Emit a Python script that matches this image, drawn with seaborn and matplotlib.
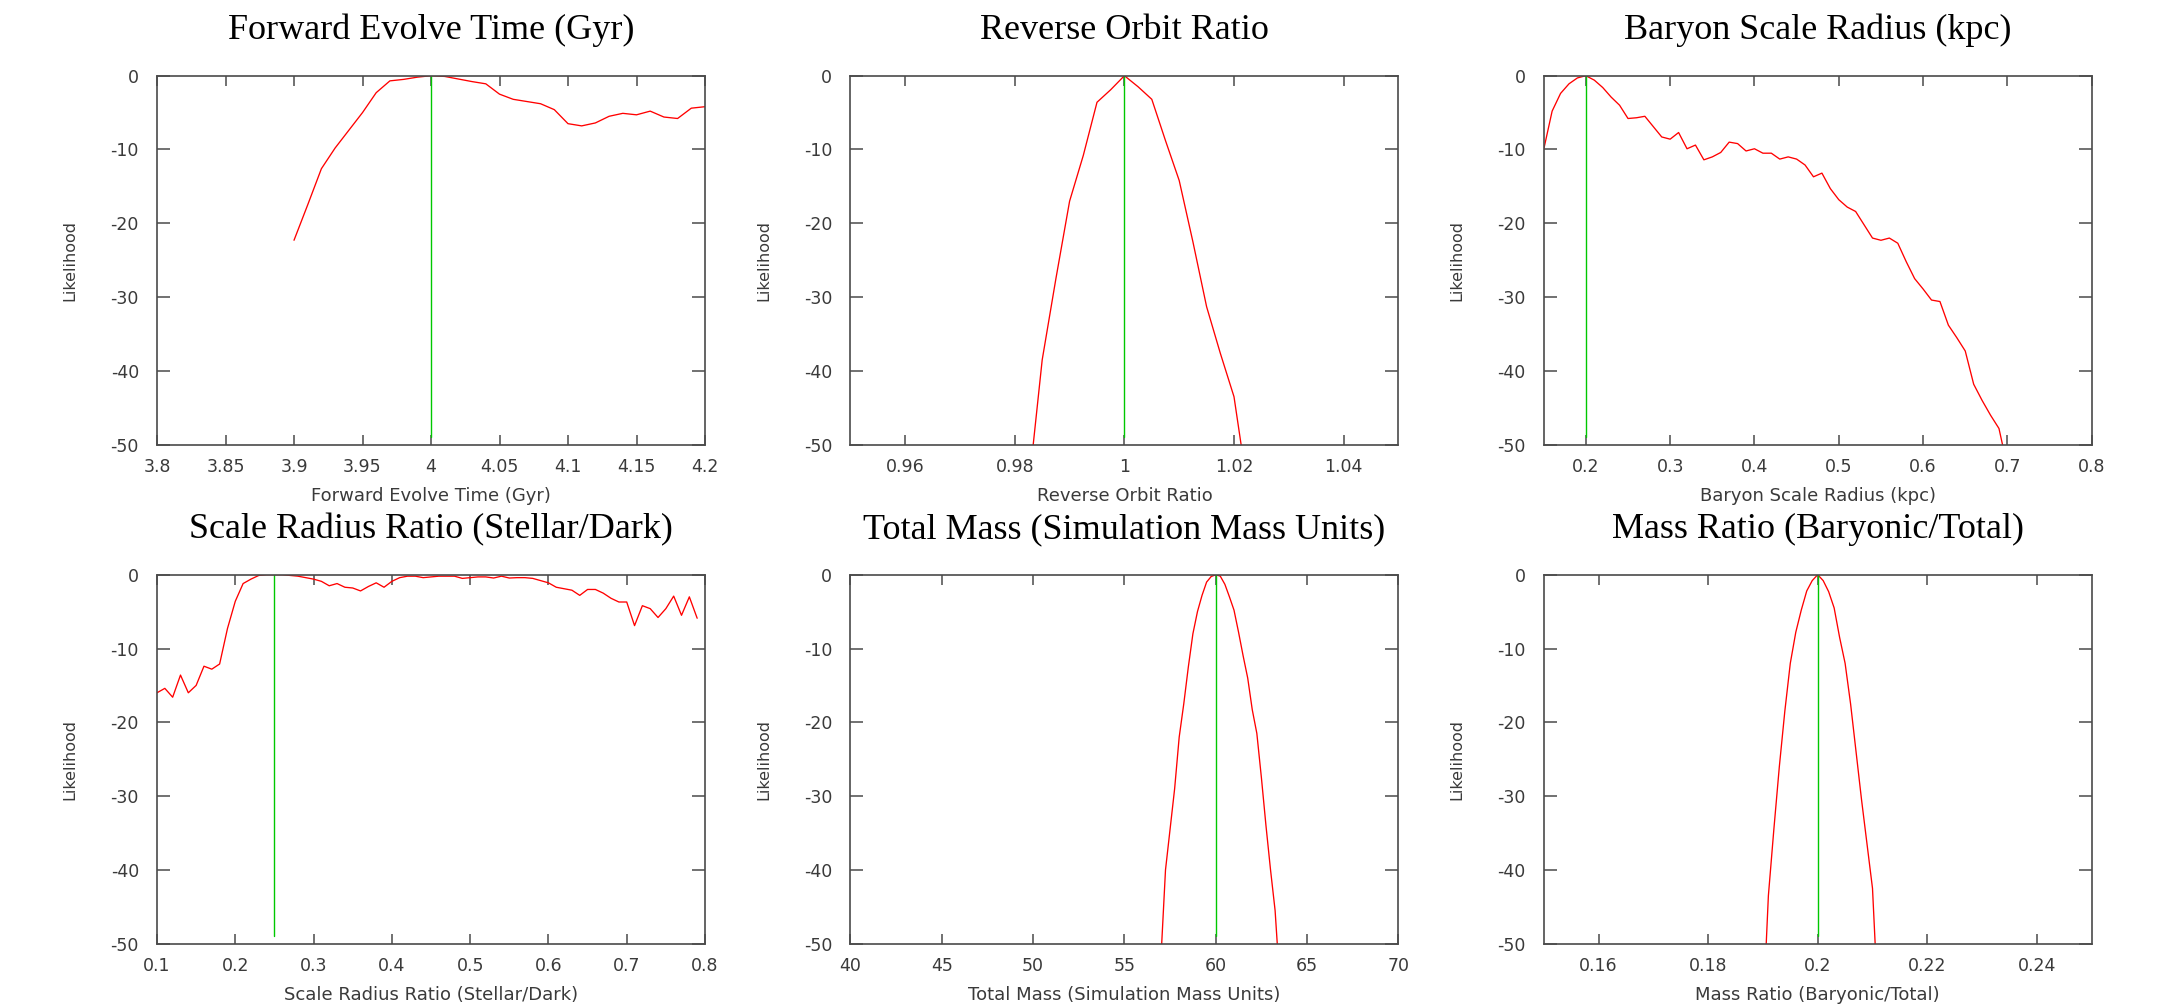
import matplotlib
matplotlib.use("Agg")
import matplotlib.pyplot as plt
import seaborn as sns
import pandas as pd

# ---------------- data ----------------
fet_x = [3.90, 3.91, 3.92, 3.93, 3.94, 3.95, 3.96, 3.97, 3.98, 3.99, 4.00,
         4.01, 4.02, 4.03, 4.04, 4.05, 4.06, 4.07, 4.08, 4.09, 4.10,
         4.11, 4.12, 4.13, 4.14, 4.15, 4.16, 4.17, 4.18, 4.19, 4.20]
fet_y = [-22.3, -17.5, -12.6, -9.8, -7.4, -5.0, -2.3, -0.7, -0.5, -0.2, 0.0,
         -0.1, -0.45, -0.8, -1.1, -2.5, -3.2, -3.5, -3.8, -4.6, -6.5,
         -6.8, -6.4, -5.5, -5.1, -5.3, -4.8, -5.6, -5.8, -4.4, -4.2]

ror_x = [0.9825, 0.985, 0.9875, 0.99, 0.9925, 0.995, 0.9975, 1.0, 1.0025,
         1.005, 1.0075, 1.01, 1.0125, 1.015, 1.0175, 1.02, 1.0225]
ror_y = [-56.0, -38.5, -27.5, -17.0, -10.8, -3.6, -1.9, 0.0, -1.5,
         -3.2, -8.8, -14.2, -22.5, -31.3, -37.6, -43.5, -56.0]

bsr_x = [0.15, 0.16, 0.17, 0.18, 0.19, 0.20, 0.21, 0.22, 0.23, 0.24, 0.25,
         0.26, 0.27, 0.28, 0.29, 0.30, 0.31, 0.32, 0.33, 0.34, 0.35, 0.36,
         0.37, 0.38, 0.39, 0.40, 0.41, 0.42, 0.43, 0.44, 0.45, 0.46, 0.47,
         0.48, 0.49, 0.50, 0.51, 0.52, 0.53, 0.54, 0.55, 0.56, 0.57, 0.58,
         0.59, 0.60, 0.61, 0.62, 0.63, 0.64, 0.65, 0.66, 0.67, 0.68, 0.69, 0.70]
bsr_y = [-10.0, -4.8, -2.4, -1.1, -0.3, 0.0, -0.6, -1.6, -2.9, -4.0, -5.8,
         -5.7, -5.5, -6.9, -8.3, -8.6, -7.7, -9.9, -9.4, -11.4, -11.0, -10.4,
         -9.0, -9.2, -10.2, -9.9, -10.5, -10.5, -11.3, -11.0, -11.3, -12.1, -13.7,
         -13.2, -15.3, -16.8, -17.8, -18.4, -20.2, -22.0, -22.3, -22.0, -22.7, -25.2,
         -27.5, -28.9, -30.4, -30.6, -33.8, -35.5, -37.3, -41.8, -44.0, -46.0, -47.8, -53.0]

srr_x = [0.10, 0.11, 0.12, 0.13, 0.14, 0.15, 0.16, 0.17, 0.18, 0.19,
         0.20, 0.21, 0.22, 0.23, 0.24, 0.25, 0.26, 0.27, 0.28, 0.29,
         0.30, 0.31, 0.32, 0.33, 0.34, 0.35, 0.36, 0.37, 0.38, 0.39,
         0.40, 0.41, 0.42, 0.43, 0.44, 0.45, 0.46, 0.47, 0.48, 0.49,
         0.50, 0.51, 0.52, 0.53, 0.54, 0.55, 0.56, 0.57, 0.58, 0.59,
         0.60, 0.61, 0.62, 0.63, 0.64, 0.65, 0.66, 0.67, 0.68, 0.69,
         0.70, 0.71, 0.72, 0.73, 0.74, 0.75, 0.76, 0.77, 0.78, 0.79]
srr_y = [-16.0, -15.4, -16.6, -13.6, -16.0, -15.0, -12.4, -12.8, -12.1, -7.3,
         -3.6, -1.2, -0.6, -0.1, 0.0, 0.0, 0.0, -0.1, -0.2, -0.4,
         -0.6, -0.9, -1.5, -1.2, -1.7, -1.8, -2.2, -1.6, -1.1, -1.7,
         -0.9, -0.4, -0.2, -0.2, -0.4, -0.3, -0.2, -0.2, -0.2, -0.5,
         -0.4, -0.3, -0.3, -0.45, -0.2, -0.45, -0.4, -0.4, -0.5, -0.8,
         -1.1, -1.7, -1.9, -2.1, -2.8, -2.0, -2.0, -2.5, -3.2, -3.7,
         -3.7, -6.9, -4.2, -4.6, -5.8, -4.6, -2.9, -5.5, -3.0, -5.9]

tm_x = [57.0, 57.25, 57.5, 57.75, 58.0, 58.25, 58.5, 58.75, 59.0, 59.25, 59.5,
        59.75, 60.0, 60.25, 60.5, 60.75, 61.0, 61.25, 61.5, 61.75, 62.0,
        62.25, 62.5, 62.75, 63.0, 63.25, 63.5]
tm_y = [-52.0, -40.0, -34.5, -29.0, -22.0, -17.5, -12.5, -8.0, -5.0, -2.8, -1.0,
        -0.25, 0.0, -0.2, -1.3, -3.0, -4.8, -7.8, -11.0, -14.0, -18.3,
        -21.5, -27.5, -34.0, -40.0, -45.5, -55.0]

mr_x = [0.190, 0.191, 0.192, 0.193, 0.194, 0.195, 0.196, 0.197, 0.198, 0.199,
        0.200, 0.201, 0.202, 0.203, 0.204, 0.205, 0.206, 0.207, 0.208, 0.209,
        0.210, 0.211]
mr_y = [-60.0, -43.5, -34.5, -26.0, -18.5, -12.0, -7.8, -4.8, -2.2, -0.8,
        0.0, -0.8, -2.3, -4.5, -8.5, -12.0, -17.5, -24.0, -30.5, -36.5,
        -42.5, -58.0]

titles = ["Forward Evolve Time (Gyr)", "Reverse Orbit Ratio",
          "Baryon Scale Radius (kpc)", "Scale Radius Ratio (Stellar/Dark)",
          "Total Mass (Simulation Mass Units)", "Mass Ratio (Baryonic/Total)"]
true_values = [4.0, 1.0, 0.2, 0.25, 60.0, 0.2]
true_line_y = [0.0, -49.0]
xlims = [(3.8, 4.2), (0.95, 1.05), (0.15, 0.8), (0.1, 0.8), (40, 70), (0.15, 0.25)]
xticks = [[3.8, 3.85, 3.9, 3.95, 4.0, 4.05, 4.1, 4.15, 4.2],
          [0.96, 0.98, 1.0, 1.02, 1.04],
          [0.2, 0.3, 0.4, 0.5, 0.6, 0.7, 0.8],
          [0.1, 0.2, 0.3, 0.4, 0.5, 0.6, 0.7, 0.8],
          [40, 45, 50, 55, 60, 65, 70],
          [0.16, 0.18, 0.2, 0.22, 0.24]]
xticklabels = [["3.8", "3.85", "3.9", "3.95", "4", "4.05", "4.1", "4.15", "4.2"],
               ["0.96", "0.98", "1", "1.02", "1.04"],
               ["0.2", "0.3", "0.4", "0.5", "0.6", "0.7", "0.8"],
               ["0.1", "0.2", "0.3", "0.4", "0.5", "0.6", "0.7", "0.8"],
               ["40", "45", "50", "55", "60", "65", "70"],
               ["0.16", "0.18", "0.2", "0.22", "0.24"]]
yticks = [0, -10, -20, -30, -40, -50]
yticklabels = ["0", "-10", "-20", "-30", "-40", "-50"]
ylabel = "Likelihood"

series = [(fet_x, fet_y), (ror_x, ror_y), (bsr_x, bsr_y),
          (srr_x, srr_y), (tm_x, tm_y), (mr_x, mr_y)]

# ---------------- style ----------------
sns.set_theme(style="white")
plt.rcParams["font.family"] = ["DejaVu Sans"]
plt.rcParams["axes.unicode_minus"] = False

W, H = 2163, 1006
fig = plt.figure(figsize=(W / 100, H / 100), dpi=100)
fig.patch.set_facecolor("white")

col_left = [157.0, 850.4, 1543.7]
ax_w = 548.0
row_top = [75.7, 574.7]
ax_h = 369.0

spine_c = "#4a4a4a"
text_c = "#3a3a3a"

for i, ((xs, ys), title) in enumerate(zip(series, titles)):
    r, c = divmod(i, 3)
    left = col_left[c] / W
    bottom = 1 - (row_top[r] + ax_h) / H
    ax = fig.add_axes([left, bottom, ax_w / W, ax_h / H])
    ax.set_facecolor("white")

    df = pd.DataFrame({"x": xs, "y": ys})
    sns.lineplot(data=df, x="x", y="y", ax=ax, color="#ff0000", lw=0.95,
                 estimator=None, sort=False)
    tdf = pd.DataFrame({"x": [true_values[i]] * 2, "y": true_line_y})
    sns.lineplot(data=tdf, x="x", y="y", ax=ax, color="#00c800", lw=1.0,
                 estimator=None, sort=False)

    ax.set_xlim(*xlims[i])
    ax.set_ylim(-50, 0)
    ax.set_xticks(xticks[i])
    ax.set_xticklabels(xticklabels[i])
    ax.set_yticks(yticks)
    ax.set_yticklabels(yticklabels)

    for s in ax.spines.values():
        s.set_visible(True)
        s.set_color(spine_c)
        s.set_linewidth(1.2)

    ax.tick_params(axis="x", which="major", direction="in", length=7.4,
                   width=1.1, color=spine_c, top=True, bottom=True,
                   labelsize=12.5, labelcolor=text_c, pad=9.5)
    ax.tick_params(axis="y", which="major", direction="in", length=9.3,
                   width=1.1, color=spine_c, left=True, right=True,
                   labelsize=12.5, labelcolor=text_c, pad=13)

    ax.set_xlabel(title, fontsize=13, color=text_c)
    ax.xaxis.label.set_va("baseline")
    ax.xaxis.set_label_coords(0.5, -56.7 / ax_h)

    ax.set_ylabel(ylabel, fontsize=11.5, color=text_c)
    ax.yaxis.label.set_va("center")
    ax.yaxis.set_label_coords(-87.0 / ax_w, 0.5)

    ax.set_title(title, family=["Liberation Serif", "DejaVu Serif"],
                 fontsize=26, color="black", y=1 + 28.0 / ax_h, va="baseline")

fig.savefig("out.png", dpi=100, facecolor="white")
